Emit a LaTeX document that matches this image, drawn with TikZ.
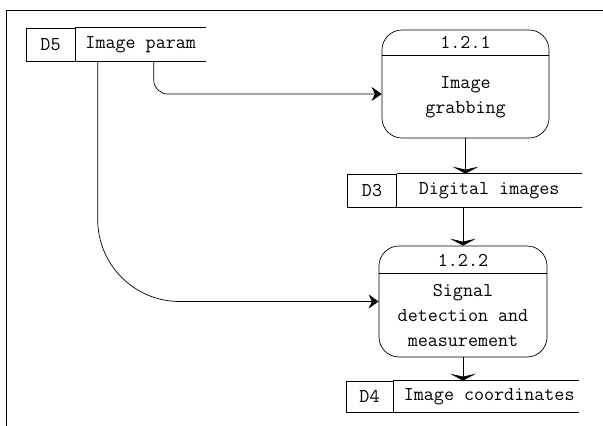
\documentclass[tikz,border=0pt]{standalone}
\usetikzlibrary{positioning}
\usetikzlibrary{arrows.meta}

\begin{document}
\begin{tikzpicture}[x=1pt,y=-1pt,line width=0.7pt,
font=\ttfamily\fontsize{19.5}{25}\selectfont,
storeid/.style={shape=rectangle,draw,minimum width=49pt,minimum height=33pt,inner sep=0pt},
storename/.style={shape=rectangle,minimum height=33pt,inner sep=0pt},
process/.style={shape=rectangle,draw,rounded corners=20pt,minimum width=167pt,minimum height=108pt},
flow/.style={-{Stealth[length=10pt,width=14pt]}},
flowdown/.style={-{Stealth[length=7pt,width=26pt,inset=3pt]}}]
\useasboundingbox (0,0) rectangle (603,426);
\draw [line width=0.5pt](603,10) -- (6,10) -- (6,426);
\path
(50.5,44.5) node [storeid](d5) {D5}
(465.5,84) node [process](p1) {}
(372,190.5) node [storeid](d3) {D3}
(463,301.5) node [process,minimum width=168pt,minimum height=111pt](p2) {}
(369.5,396.5) node [storeid,minimum width=47pt,minimum height=31pt](d4) {D4};
\node [storename,minimum width=130pt,right=0pt of d5](d5t) {Image param};
\node [storename,minimum width=184pt,right=0pt of d3](d3t) {Digital images};
\node [storename,minimum width=185pt,minimum height=31pt,right=0pt of d4](d4t) {\hspace{6pt}Image coordinates};
\draw (d5t.north west) -- (d5t.north east) (d5t.south west) -- (d5t.south east);
\draw (d3t.north west) -- (d3t.north east) (d3t.south west) -- (d3t.south east);
\draw (d4t.north west) -- (d4t.north east) (d4t.south west) -- (d4t.south east);
\node (p1n) at ([yshift=-13pt]p1.north) {1.2.1};
\draw ([yshift=-26pt]p1.north west) -- ([yshift=-26pt]p1.north east);
\node [align=center](p1t) at ([yshift=-13pt]p1.center) {Image\\grabbing};
\node (p2n) at ([yshift=-15pt]p2.north) {1.2.2};
\draw ([yshift=-28pt]p2.north west) -- ([yshift=-28pt]p2.north east);
\node [align=center](p2t) at ([yshift=-14pt]p2.center) {Signal\\detection and\\measurement};
\draw [flow,rounded corners=14pt]([xshift=13pt]d5t.south) |- ([yshift=-10pt]p1.west);
\draw [flow,rounded corners=82pt]([xshift=-43pt]d5t.south) |- (p2.west);
\draw [flowdown](p1.south) -- (p1.south |- d3t.north);
\draw [flowdown](p2.north |- d3t.south) -- (p2.north);
\draw [flowdown](p2.south) -- (p2.south |- d4t.north);

\end{tikzpicture}
\end{document}
